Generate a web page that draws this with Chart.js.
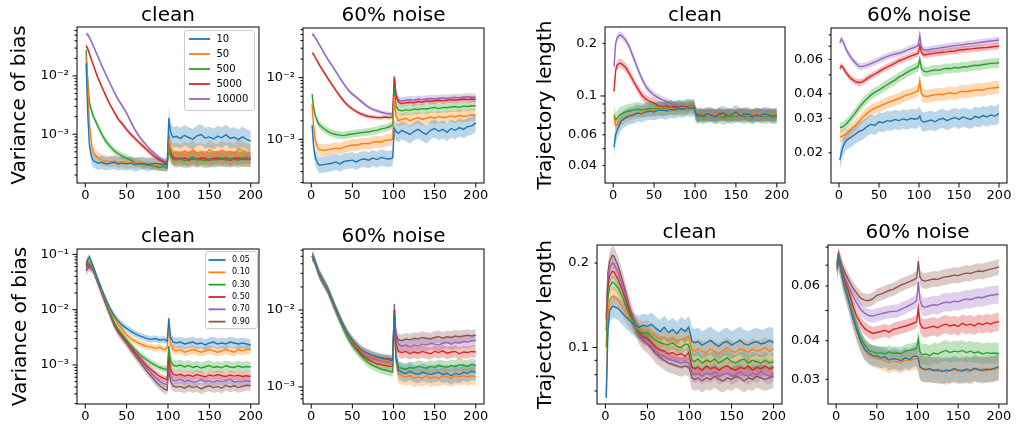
<!DOCTYPE html>
<html>
<head>
<meta charset="utf-8">
<script src="https://cdn.jsdelivr.net/npm/chart.js@4.4.0/dist/chart.umd.min.js"></script>
<style>
  body { margin: 0; background: #fff; width: 1017px; height: 425px; position: relative; overflow: hidden; }
  canvas { position: absolute; }
</style>
</head>
<body>
<canvas id="cA"></canvas><canvas id="cB"></canvas><canvas id="cC"></canvas><canvas id="cD"></canvas>
<canvas id="cE"></canvas><canvas id="cF"></canvas><canvas id="cG"></canvas><canvas id="cH"></canvas>
<script>
// epochs sampled from the curves
const epochs = [1,3,5,8, 10,15,20,25,30,35,40,45,50, 55,60,65,70,75,80,85,90,95,99, 101,103,106,
  110,115,120,125,130,135,140,145,150,155,160,165,170,175,180,185,190,195,200];
const xTicks = [0, 50, 100, 150, 200];

const batchLabels = ['10', '50', '500', '5000', '10000'];
const ratioLabels = ['0.05', '0.10', '0.30', '0.50', '0.70', '0.90'];
const colors = ['#1f77b4', '#ff7f0e', '#2ca02c', '#d62728', '#9467bd', '#8c564b'];

// top-left: variance of bias, clean
const varBiasClean = [
  [1.65e-2,2.2e-3,6.5e-4,3.9e-4, 3.5e-4,3.2e-4,3.3e-4,3.1e-4,3.2e-4,3.3e-4,3.1e-4,3.2e-4,3.1e-4,
   3.2e-4,3.0e-4,3.1e-4,3.2e-4,3.0e-4,3.1e-4,3.2e-4,3.1e-4,3.0e-4,3.0e-4, 1.9e-3,1.1e-3,8.8e-4,
   9.2e-4,8.5e-4,9.6e-4,8.8e-4,8.2e-4,9.4e-4,9.9e-4,8.6e-4,9.0e-4,8.3e-4,9.3e-4,8.7e-4,9.8e-4,8.5e-4,8.9e-4,8.1e-4,9.0e-4,8.2e-4,7.6e-4],
  [2.1e-2,8.0e-3,1.5e-3,6.0e-4, 4.8e-4,4.0e-4,3.6e-4,3.5e-4,3.4e-4,3.5e-4,3.3e-4,3.4e-4,3.2e-4,
   3.3e-4,3.2e-4,3.3e-4,3.1e-4,3.2e-4,3.1e-4,3.0e-4,3.0e-4,2.9e-4,2.9e-4, 9.0e-4,6.0e-4,4.8e-4,
   5.0e-4,4.6e-4,5.2e-4,4.8e-4,5.4e-4,4.7e-4,5.0e-4,4.5e-4,5.5e-4,4.9e-4,4.7e-4,5.3e-4,4.9e-4,5.1e-4,4.6e-4,5.6e-4,5.4e-4,4.8e-4,4.6e-4],
  [2.8e-2,8.0e-3,3.5e-3,2.4e-3, 2.0e-3,1.4e-3,1.0e-3,7.5e-4,6.2e-4,5.2e-4,4.6e-4,4.2e-4,3.9e-4,
   3.6e-4,3.3e-4,3.2e-4,3.0e-4,3.0e-4,2.9e-4,2.8e-4,2.7e-4,2.8e-4,2.6e-4, 8.5e-4,4.5e-4,3.7e-4,
   3.6e-4,3.8e-4,3.5e-4,3.7e-4,3.9e-4,3.6e-4,3.7e-4,3.5e-4,3.8e-4,3.6e-4,3.7e-4,3.9e-4,3.6e-4,3.8e-4,3.7e-4,3.6e-4,3.8e-4,3.7e-4,3.7e-4],
  [3.3e-2,2.9e-2,2.4e-2,1.8e-2, 1.5e-2,9.5e-3,6.5e-3,4.5e-3,3.2e-3,2.4e-3,1.8e-3,1.5e-3,1.2e-3,
   1.0e-3,8.5e-4,7.2e-4,6.2e-4,5.3e-4,4.6e-4,4.0e-4,3.6e-4,3.3e-4,3.0e-4, 9.5e-4,5.0e-4,4.0e-4,
   3.8e-4,3.7e-4,3.9e-4,3.6e-4,3.8e-4,3.7e-4,3.9e-4,3.8e-4,3.6e-4,3.8e-4,3.9e-4,3.7e-4,3.8e-4,3.6e-4,3.8e-4,3.9e-4,3.7e-4,3.8e-4,3.7e-4],
  [5.2e-2,5.1e-2,4.6e-2,3.7e-2, 3.2e-2,2.2e-2,1.5e-2,1.05e-2,7.4e-3,5.3e-3,3.9e-3,3.0e-3,2.3e-3,
   1.65e-3,1.2e-3,9.2e-4,7.5e-4,6.2e-4,5.2e-4,4.5e-4,3.9e-4,3.5e-4,3.2e-4, 5.0e-4,4.2e-4,3.8e-4,
   3.9e-4,4.0e-4,3.8e-4,3.9e-4,4.1e-4,3.8e-4,3.9e-4,4.0e-4,3.8e-4,3.9e-4,4.0e-4,3.9e-4,4.1e-4,3.8e-4,4.0e-4,3.9e-4,4.0e-4,4.1e-4,4.0e-4]
];
const varBiasCleanSpread = [[0.3,0.5],[0.25,0.45],[0.15,0.35],[0.1,0.35],[0.1,0.3]];

// top: variance of bias, 60% noise
const varBiasNoise = [
  [1.7e-3,7.5e-4,5.0e-4,4.1e-4, 3.8e-4,3.9e-4,4.0e-4,4.1e-4,4.3e-4,4.0e-4,4.4e-4,4.5e-4,4.6e-4,
   4.3e-4,4.7e-4,4.8e-4,4.6e-4,5.0e-4,4.7e-4,5.1e-4,4.9e-4,4.8e-4,5.0e-4, 1.5e-3,1.35e-3,1.25e-3,
   1.4e-3,1.3e-3,1.2e-3,1.35e-3,1.45e-3,1.3e-3,1.2e-3,1.4e-3,1.5e-3,1.35e-3,1.45e-3,1.3e-3,1.5e-3,1.4e-3,1.55e-3,1.45e-3,1.6e-3,1.65e-3,1.85e-3],
  [3.7e-3,1.6e-3,9.5e-4,7.2e-4, 6.8e-4,6.6e-4,6.8e-4,6.9e-4,7.2e-4,7.0e-4,7.5e-4,7.8e-4,8.1e-4,
   8.0e-4,8.4e-4,8.6e-4,8.5e-4,9.0e-4,9.2e-4,9.0e-4,9.6e-4,9.8e-4,1.0e-3, 5.0e-3,2.4e-3,2.0e-3,
   2.1e-3,2.2e-3,2.0e-3,2.15e-3,2.25e-3,2.1e-3,2.2e-3,2.3e-3,2.2e-3,2.35e-3,2.25e-3,2.3e-3,2.4e-3,2.3e-3,2.45e-3,2.35e-3,2.4e-3,2.5e-3,2.45e-3],
  [5.4e-3,3.2e-3,2.4e-3,1.9e-3, 1.7e-3,1.5e-3,1.35e-3,1.25e-3,1.2e-3,1.17e-3,1.15e-3,1.2e-3,1.22e-3,
   1.25e-3,1.28e-3,1.3e-3,1.33e-3,1.37e-3,1.4e-3,1.48e-3,1.52e-3,1.6e-3,1.7e-3, 7.0e-3,3.5e-3,3.0e-3,
   2.9e-3,3.0e-3,2.95e-3,3.1e-3,3.05e-3,3.15e-3,3.1e-3,3.2e-3,3.3e-3,3.15e-3,3.3e-3,3.25e-3,3.35e-3,3.4e-3,3.3e-3,3.45e-3,3.4e-3,3.5e-3,3.5e-3],
  [2.5e-2,2.4e-2,2.1e-2,1.8e-2, 1.6e-2,1.25e-2,9.8e-3,7.8e-3,6.2e-3,5.0e-3,4.1e-3,3.5e-3,3.1e-3,
   2.8e-3,2.6e-3,2.45e-3,2.35e-3,2.3e-3,2.25e-3,2.25e-3,2.3e-3,2.25e-3,2.3e-3, 1.0e-2,5.0e-3,4.0e-3,
   3.8e-3,3.9e-3,4.0e-3,3.9e-3,4.1e-3,4.0e-3,4.2e-3,4.1e-3,4.2e-3,4.3e-3,4.2e-3,4.3e-3,4.4e-3,4.3e-3,4.4e-3,4.5e-3,4.4e-3,4.5e-3,4.4e-3],
  [5.0e-2,4.9e-2,4.4e-2,3.8e-2, 3.4e-2,2.6e-2,2.0e-2,1.6e-2,1.25e-2,9.8e-3,7.8e-3,6.3e-3,5.4e-3,
   4.8e-3,4.2e-3,3.7e-3,3.3e-3,3.05e-3,2.9e-3,2.75e-3,2.65e-3,2.6e-3,2.55e-3, 1.05e-2,5.5e-3,4.4e-3,
   4.2e-3,4.3e-3,4.4e-3,4.3e-3,4.5e-3,4.4e-3,4.5e-3,4.6e-3,4.5e-3,4.6e-3,4.7e-3,4.6e-3,4.7e-3,4.8e-3,4.7e-3,4.8e-3,4.9e-3,4.8e-3,4.8e-3]
];
const varBiasNoiseSpread = [[0.35,0.4],[0.25,0.25],[0.15,0.2],[0.08,0.12],[0.08,0.15]];

// top-right: trajectory length, clean
const trajClean = [
  [0.051,0.060,0.064,0.069, 0.072,0.075,0.077,0.078,0.080,0.079,0.081,0.082,0.081,
   0.083,0.083,0.082,0.084,0.083,0.085,0.084,0.086,0.085,0.086, 0.079,0.077,0.078,
   0.077,0.079,0.078,0.076,0.079,0.080,0.077,0.078,0.081,0.077,0.078,0.079,0.076,0.078,0.077,0.079,0.078,0.077,0.078],
  [0.076,0.068,0.068,0.071, 0.073,0.076,0.078,0.079,0.080,0.081,0.082,0.082,0.083,
   0.084,0.084,0.083,0.085,0.084,0.085,0.086,0.085,0.087,0.086, 0.078,0.077,0.078,
   0.078,0.077,0.079,0.078,0.077,0.078,0.079,0.077,0.078,0.079,0.078,0.077,0.078,0.079,0.078,0.077,0.078,0.079,0.078],
  [0.078,0.073,0.075,0.078, 0.079,0.081,0.082,0.083,0.084,0.083,0.084,0.085,0.084,
   0.085,0.084,0.085,0.086,0.085,0.086,0.085,0.086,0.087,0.086, 0.078,0.076,0.077,
   0.076,0.077,0.078,0.076,0.077,0.075,0.077,0.076,0.077,0.078,0.076,0.077,0.076,0.078,0.077,0.076,0.077,0.076,0.076],
  [0.106,0.140,0.151,0.154, 0.153,0.146,0.134,0.121,0.110,0.101,0.096,0.093,0.091,
   0.088,0.087,0.088,0.086,0.087,0.086,0.087,0.086,0.088,0.087, 0.079,0.078,0.077,
   0.078,0.077,0.078,0.077,0.079,0.078,0.077,0.078,0.077,0.078,0.079,0.077,0.078,0.077,0.078,0.077,0.078,0.078,0.077],
  [0.147,0.200,0.216,0.223, 0.222,0.210,0.190,0.165,0.143,0.126,0.113,0.106,0.101,
   0.098,0.095,0.093,0.091,0.089,0.088,0.088,0.087,0.087,0.087, 0.080,0.078,0.078,
   0.078,0.079,0.077,0.078,0.078,0.077,0.079,0.078,0.077,0.078,0.079,0.078,0.077,0.078,0.078,0.079,0.078,0.077,0.078]
];
const trajCleanSpread = [[0.12,0.1],[0.08,0.08],[0.1,0.1],[0.06,0.08],[0.05,0.08]];

// top-right: trajectory length, 60% noise
const trajNoise = [
  [0.0184,0.0200,0.0215,0.0228, 0.0233,0.0240,0.0248,0.0257,0.0262,0.0272,0.0280,0.0276,0.0288,
   0.0285,0.0292,0.0290,0.0296,0.0292,0.0298,0.0294,0.0300,0.0297,0.0300, 0.0308,0.0292,0.0287,
   0.0290,0.0294,0.0288,0.0296,0.0300,0.0292,0.0298,0.0303,0.0296,0.0305,0.0300,0.0296,0.0307,0.0302,0.0310,0.0305,0.0312,0.0308,0.0318],
  [0.0241,0.0242,0.0245,0.0248, 0.0250,0.0262,0.0275,0.0290,0.0305,0.0318,0.0330,0.0338,0.0345,
   0.0352,0.0360,0.0366,0.0372,0.0378,0.0388,0.0395,0.0400,0.0408,0.0415, 0.0465,0.0400,0.0390,
   0.0388,0.0392,0.0395,0.0398,0.0396,0.0402,0.0405,0.0400,0.0408,0.0412,0.0410,0.0415,0.0418,0.0420,0.0418,0.0425,0.0428,0.0430,0.0432],
  [0.0269,0.0270,0.0273,0.0278, 0.0283,0.0300,0.0318,0.0340,0.0360,0.0378,0.0395,0.0408,0.0418,
   0.0432,0.0445,0.0458,0.0470,0.0488,0.0500,0.0515,0.0528,0.0540,0.0552, 0.0600,0.0540,0.0522,
   0.0518,0.0525,0.0530,0.0528,0.0535,0.0540,0.0538,0.0545,0.0542,0.0550,0.0548,0.0555,0.0560,0.0558,0.0565,0.0568,0.0572,0.0574,0.0576],
  [0.0540,0.0556,0.0545,0.0520, 0.0505,0.0478,0.0463,0.0456,0.0462,0.0478,0.0492,0.0505,0.0519,
   0.0535,0.0548,0.0560,0.0574,0.0590,0.0600,0.0612,0.0625,0.0635,0.0644, 0.0705,0.0650,0.0632,
   0.0635,0.0640,0.0645,0.0648,0.0652,0.0655,0.0660,0.0662,0.0669,0.0672,0.0675,0.0678,0.0682,0.0685,0.0688,0.0690,0.0694,0.0698,0.0700],
  [0.0729,0.0762,0.0740,0.0690, 0.0660,0.0612,0.0578,0.0552,0.0552,0.0560,0.0570,0.0582,0.0595,
   0.0608,0.0620,0.0630,0.0638,0.0644,0.0655,0.0668,0.0680,0.0692,0.0704, 0.0798,0.0690,0.0670,
   0.0669,0.0675,0.0680,0.0684,0.0690,0.0695,0.0700,0.0705,0.0709,0.0712,0.0718,0.0722,0.0725,0.0730,0.0735,0.0740,0.0744,0.0748,0.0753]
];
const trajNoiseSpread = [[0.12,0.12],[0.07,0.08],[0.06,0.06],[0.04,0.04],[0.04,0.04]];

// bottom-left: variance of bias, clean (ratios)
const varBiasCleanR = [
  [0.064,0.080,0.090,0.070, 0.058,0.036,0.023,0.0152,0.0105,0.0078,0.0062,0.0052,0.0046,
   0.0041,0.0037,0.0034,0.0032,0.0030,0.0029,0.0030,0.0028,0.0029,0.0027, 0.0070,0.0032,0.0026,
   0.0025,0.0026,0.0024,0.0025,0.0026,0.0024,0.0025,0.0023,0.0025,0.0026,0.0024,0.0025,0.0024,0.0026,0.0025,0.0024,0.0025,0.0024,0.0023],
  [0.070,0.080,0.074,0.064, 0.055,0.035,0.022,0.0145,0.0096,0.0071,0.0054,0.0043,0.0035,
   0.0030,0.0027,0.00245,0.0023,0.00215,0.0021,0.0020,0.0021,0.0019,0.0020, 0.0050,0.0024,0.0019,
   0.0018,0.0019,0.0017,0.0018,0.0019,0.0018,0.0017,0.0018,0.0019,0.0018,0.0017,0.0018,0.0019,0.0018,0.0017,0.0019,0.0018,0.0019,0.0019],
  [0.065,0.070,0.068,0.060, 0.053,0.034,0.021,0.0137,0.0086,0.0058,0.0043,0.00345,0.0028,
   0.0023,0.0019,0.0016,0.00138,0.00122,0.00108,0.00098,0.00090,0.00085,0.00082, 0.0022,0.0012,0.0010,
   0.00095,0.0010,0.00092,0.00098,0.00090,0.00095,0.00088,0.00093,0.00098,0.00090,0.00094,0.00089,0.00097,0.00092,0.00090,0.00096,0.00091,0.00094,0.00092],
  [0.060,0.064,0.064,0.058, 0.052,0.033,0.0205,0.0132,0.0084,0.0056,0.0041,0.0033,0.00265,
   0.0021,0.0017,0.0014,0.00115,0.00095,0.00082,0.00071,0.00062,0.00057,0.00054, 0.0016,0.00085,0.00068,
   0.00065,0.00068,0.00063,0.00066,0.00062,0.00067,0.00064,0.00061,0.00066,0.00063,0.00067,0.00064,0.00062,0.00066,0.00063,0.00065,0.00062,0.00064,0.00062],
  [0.056,0.060,0.060,0.056, 0.051,0.032,0.020,0.0128,0.0082,0.0054,0.0040,0.0032,0.00255,
   0.0020,0.0016,0.0013,0.00105,0.00086,0.00070,0.00059,0.00051,0.00046,0.00044, 0.0012,0.00065,0.00053,
   0.00052,0.00055,0.00050,0.00053,0.00049,0.00051,0.00054,0.00050,0.00052,0.00049,0.00053,0.00050,0.00052,0.00055,0.00049,0.00051,0.00050,0.00052,0.00050],
  [0.050,0.056,0.058,0.055, 0.050,0.031,0.0195,0.0124,0.0080,0.0052,0.0039,0.0031,0.00245,
   0.0019,0.0015,0.0012,0.00095,0.00075,0.00062,0.00050,0.00042,0.00037,0.00035, 0.0009,0.00050,0.00042,
   0.00040,0.00041,0.00038,0.00042,0.00039,0.00041,0.00037,0.00040,0.00042,0.00039,0.00041,0.00038,0.00043,0.00040,0.00042,0.00039,0.00041,0.00043,0.00042]
];
const varBiasCleanRSpread = [[0.15,0.25],[0.15,0.2],[0.15,0.25],[0.15,0.2],[0.15,0.2],[0.2,0.25]];

// bottom: variance of bias, 60% noise (ratios)
const varBiasNoiseR = [
  [0.050,0.047,0.041,0.033, 0.029,0.023,0.0185,0.0137,0.0102,0.0077,0.0059,0.0047,0.0040,
   3.5e-3,3.1e-3,2.85e-3,2.7e-3,2.55e-3,2.45e-3,2.35e-3,2.3e-3,2.25e-3,2.2e-3, 8.0e-3,2.4e-3,1.65e-3,
   1.55e-3,1.5e-3,1.6e-3,1.5e-3,1.45e-3,1.55e-3,1.5e-3,1.45e-3,1.5e-3,1.55e-3,1.45e-3,1.5e-3,1.4e-3,1.5e-3,1.45e-3,1.55e-3,1.5e-3,1.6e-3,1.55e-3],
  [0.050,0.047,0.041,0.033, 0.029,0.023,0.0184,0.0136,0.0101,0.0076,0.0058,0.0046,0.0039,
   3.4e-3,3.0e-3,2.75e-3,2.6e-3,2.45e-3,2.35e-3,2.25e-3,2.2e-3,2.15e-3,2.1e-3, 7.0e-3,2.2e-3,1.45e-3,
   1.4e-3,1.35e-3,1.4e-3,1.3e-3,1.35e-3,1.3e-3,1.4e-3,1.3e-3,1.35e-3,1.3e-3,1.4e-3,1.35e-3,1.3e-3,1.4e-3,1.35e-3,1.4e-3,1.35e-3,1.4e-3,1.35e-3],
  [0.050,0.047,0.041,0.033, 0.029,0.023,0.0183,0.0134,0.0098,0.0073,0.0055,0.0043,0.0035,
   3.0e-3,2.6e-3,2.3e-3,2.05e-3,1.9e-3,1.8e-3,1.7e-3,1.65e-3,1.6e-3,1.55e-3, 9.0e-3,2.6e-3,1.8e-3,
   1.75e-3,1.7e-3,1.8e-3,1.75e-3,1.85e-3,1.8e-3,1.75e-3,1.85e-3,1.8e-3,1.9e-3,1.85e-3,1.8e-3,1.9e-3,1.85e-3,1.95e-3,1.9e-3,1.85e-3,1.95e-3,1.9e-3],
  [0.050,0.047,0.041,0.033, 0.029,0.023,0.0183,0.0135,0.0100,0.0075,0.0057,0.0045,0.0037,
   3.2e-3,2.75e-3,2.45e-3,2.25e-3,2.1e-3,2.0e-3,1.95e-3,1.9e-3,1.85e-3,1.85e-3, 1.0e-2,3.6e-3,2.9e-3,
   2.8e-3,2.9e-3,2.7e-3,2.85e-3,2.75e-3,2.9e-3,2.8e-3,2.7e-3,2.9e-3,2.8e-3,2.95e-3,2.75e-3,2.85e-3,2.9e-3,2.7e-3,2.85e-3,2.8e-3,2.9e-3,2.85e-3],
  [0.050,0.047,0.041,0.033, 0.029,0.023,0.0184,0.0136,0.0101,0.0076,0.0058,0.0046,0.0038,
   3.3e-3,2.9e-3,2.6e-3,2.45e-3,2.35e-3,2.25e-3,2.2e-3,2.15e-3,2.1e-3,2.1e-3, 1.2e-2,4.5e-3,3.6e-3,
   3.4e-3,3.5e-3,3.3e-3,3.5e-3,3.4e-3,3.6e-3,3.5e-3,3.7e-3,3.6e-3,3.5e-3,3.7e-3,3.8e-3,3.6e-3,3.8e-3,3.7e-3,3.9e-3,3.8e-3,4.0e-3,4.0e-3],
  [0.050,0.047,0.041,0.033, 0.029,0.023,0.0185,0.0138,0.0103,0.0078,0.0060,0.0048,0.0040,
   3.4e-3,3.0e-3,2.8e-3,2.65e-3,2.55e-3,2.45e-3,2.4e-3,2.35e-3,2.35e-3,2.3e-3, 1.0e-2,4.8e-3,4.1e-3,
   4.0e-3,4.2e-3,4.1e-3,4.3e-3,4.2e-3,4.4e-3,4.3e-3,4.2e-3,4.4e-3,4.5e-3,4.3e-3,4.5e-3,4.4e-3,4.6e-3,4.5e-3,4.6e-3,4.7e-3,4.6e-3,4.7e-3]
];
const varBiasNoiseRSpread = [[0.15,0.3],[0.15,0.3],[0.15,0.2],[0.15,0.2],[0.12,0.2],[0.12,0.2]];

// bottom-right: trajectory length, clean (ratios)
const trajCleanR = [
  [0.066,0.115,0.135,0.140, 0.140,0.138,0.133,0.128,0.124,0.120,0.118,0.120,0.119,
   0.121,0.117,0.114,0.118,0.113,0.116,0.112,0.117,0.114,0.118, 0.112,0.105,0.104,
   0.105,0.102,0.104,0.106,0.103,0.101,0.104,0.105,0.102,0.104,0.106,0.103,0.102,0.104,0.105,0.103,0.104,0.106,0.104],
  [0.068,0.130,0.148,0.152, 0.152,0.148,0.140,0.132,0.125,0.120,0.116,0.115,0.116,
   0.112,0.110,0.107,0.109,0.106,0.108,0.105,0.107,0.108,0.110, 0.104,0.098,0.097,
   0.099,0.097,0.096,0.099,0.097,0.095,0.098,0.100,0.097,0.096,0.099,0.098,0.096,0.099,0.097,0.098,0.100,0.097,0.099],
  [0.100,0.150,0.165,0.171, 0.170,0.163,0.152,0.139,0.128,0.120,0.114,0.112,0.113,
   0.109,0.106,0.104,0.103,0.102,0.104,0.101,0.100,0.103,0.102, 0.096,0.090,0.089,
   0.091,0.088,0.090,0.089,0.091,0.088,0.090,0.092,0.089,0.088,0.090,0.091,0.088,0.090,0.089,0.088,0.090,0.088,0.089],
  [0.115,0.165,0.180,0.187, 0.186,0.175,0.160,0.145,0.131,0.120,0.113,0.109,0.108,
   0.104,0.100,0.098,0.097,0.095,0.096,0.094,0.095,0.093,0.096, 0.090,0.085,0.084,
   0.085,0.083,0.086,0.084,0.085,0.083,0.085,0.086,0.084,0.083,0.085,0.084,0.086,0.083,0.085,0.084,0.086,0.084,0.085],
  [0.125,0.175,0.193,0.200, 0.199,0.186,0.168,0.150,0.133,0.121,0.112,0.107,0.106,
   0.101,0.097,0.094,0.093,0.091,0.090,0.089,0.088,0.089,0.088, 0.085,0.081,0.080,
   0.081,0.079,0.081,0.080,0.082,0.079,0.080,0.081,0.079,0.080,0.082,0.080,0.079,0.081,0.080,0.082,0.080,0.079,0.081],
  [0.128,0.185,0.203,0.213, 0.212,0.196,0.175,0.154,0.135,0.121,0.111,0.106,0.103,
   0.099,0.095,0.092,0.090,0.088,0.087,0.086,0.085,0.086,0.085, 0.082,0.078,0.077,
   0.078,0.076,0.078,0.077,0.079,0.077,0.076,0.078,0.077,0.079,0.078,0.076,0.078,0.077,0.079,0.078,0.077,0.078,0.079]
];
const trajCleanRSpread = [[0.1,0.12],[0.08,0.09],[0.06,0.07],[0.06,0.07],[0.05,0.07],[0.08,0.1]];

// bottom-right: trajectory length, 60% noise (ratios)
const trajNoiseR = [
  [0.068,0.073,0.069,0.063, 0.060,0.054,0.048,0.0435,0.0400,0.0375,0.0365,0.0358,0.0357,
   0.0352,0.0355,0.0346,0.0350,0.0348,0.0345,0.0352,0.0348,0.0356,0.0357, 0.0352,0.0330,0.0325,
   0.0322,0.0325,0.0320,0.0323,0.0318,0.0322,0.0320,0.0325,0.0322,0.0319,0.0324,0.0321,0.0326,0.0323,0.0320,0.0324,0.0322,0.0326,0.0330],
  [0.067,0.072,0.069,0.063, 0.060,0.054,0.048,0.0432,0.0395,0.0372,0.0360,0.0355,0.0352,
   0.0348,0.0345,0.0340,0.0344,0.0342,0.0340,0.0346,0.0345,0.0349,0.0350, 0.0345,0.0328,0.0323,
   0.0325,0.0321,0.0323,0.0318,0.0322,0.0316,0.0320,0.0322,0.0318,0.0323,0.0320,0.0318,0.0324,0.0321,0.0325,0.0320,0.0326,0.0323,0.0328],
  [0.069,0.074,0.070,0.064, 0.061,0.055,0.049,0.0445,0.0410,0.0388,0.0372,0.0368,0.0364,
   0.0366,0.0362,0.0368,0.0364,0.0365,0.0363,0.0370,0.0372,0.0375,0.0378, 0.0405,0.0368,0.0360,
   0.0362,0.0358,0.0365,0.0362,0.0368,0.0372,0.0366,0.0370,0.0368,0.0372,0.0366,0.0370,0.0365,0.0368,0.0362,0.0366,0.0364,0.0365,0.0363],
  [0.070,0.075,0.071,0.066, 0.063,0.058,0.0525,0.048,0.0455,0.0438,0.0428,0.0422,0.0425,
   0.0428,0.0432,0.0426,0.0435,0.0438,0.0442,0.0445,0.0450,0.0455,0.0460, 0.0510,0.0455,0.0440,
   0.0438,0.0442,0.0445,0.0440,0.0448,0.0452,0.0446,0.0450,0.0444,0.0455,0.0448,0.0452,0.0446,0.0455,0.0450,0.0457,0.0452,0.0458,0.0460],
  [0.071,0.076,0.072,0.067, 0.065,0.060,0.056,0.053,0.0505,0.049,0.0482,0.0480,0.0485,
   0.0488,0.0492,0.0495,0.0497,0.0498,0.0505,0.0512,0.0520,0.0528,0.0538, 0.0620,0.0540,0.0515,
   0.0513,0.0518,0.0522,0.0520,0.0528,0.0532,0.0530,0.0536,0.0534,0.0540,0.0545,0.0542,0.0548,0.0552,0.0550,0.0556,0.0560,0.0562,0.0564],
  [0.072,0.076,0.073,0.069, 0.067,0.063,0.0595,0.057,0.0548,0.0540,0.0538,0.0545,0.0560,
   0.0565,0.0572,0.0580,0.0585,0.0595,0.0605,0.0612,0.0620,0.0628,0.0637, 0.0720,0.0640,0.0625,
   0.0622,0.0628,0.0632,0.0630,0.0638,0.0642,0.0645,0.0650,0.0648,0.0655,0.0660,0.0658,0.0665,0.0670,0.0668,0.0675,0.0680,0.0685,0.0691]
];
const trajNoiseRSpread = [[0.08,0.1],[0.08,0.1],[0.05,0.08],[0.05,0.07],[0.05,0.07],[0.05,0.06]];

// labelled y ticks
const ticksVar2 = [[1e-2, '10⁻²'], [1e-3, '10⁻³']];
const ticksVar3 = [[1e-1, '10⁻¹'], [1e-2, '10⁻²'], [1e-3, '10⁻³']];
const ticksTrajC = [[0.04, '0.04'], [0.06, '0.06'], [0.1, '0.1'], [0.2, '0.2']];
const ticksTrajN = [[0.02, '0.02'], [0.03, '0.03'], [0.04, '0.04'], [0.06, '0.06']];
const ticksTrajCR = [[0.1, '0.1'], [0.2, '0.2']];
const ticksTrajNR = [[0.03, '0.03'], [0.04, '0.04'], [0.06, '0.06']];

const FONT = '"DejaVu Sans", sans-serif';

// layout: canvas box [x,y,w,h] and plot box [l,t,r,b] in page pixels
const panels = [
  {id:'cA', series:varBiasClean, spread:varBiasCleanSpread, yMin:1.46e-4, yMax:0.069, yTicks:ticksVar2,
   title:'clean', titleY:21, ylabel:'Variance of bias', ylabelX:25, canvas:[0,0,280,215], plot:[77,27,259,183],
   legend:{labels:batchLabels, box:[184,30,254,110], rowY:39, dy:15, line:[189,210], textX:216.5, size:10}},
  {id:'cB', series:varBiasNoise, spread:varBiasNoiseSpread, yMin:1.96e-4, yMax:0.0638, yTicks:ticksVar2,
   title:'60% noise', titleY:21, canvas:[240,0,280,215], plot:[303,28,484,183]},
  {id:'cC', series:trajClean, spread:trajCleanSpread, yMin:0.0318, yMax:0.248, yTicks:ticksTrajC,
   title:'clean', titleY:21, ylabel:'Trajectory length', ylabelX:551, canvas:[510,0,290,215], plot:[605,27,785,183]},
  {id:'cD', series:trajNoise, spread:trajNoiseSpread, yMin:0.01403, yMax:0.0867, yTicks:ticksTrajN,
   title:'60% noise', titleY:21, canvas:[765,0,252,215], plot:[831,28,1007,183]},
  {id:'cE', series:varBiasCleanR, spread:varBiasCleanRSpread, yMin:1.97e-4, yMax:0.125, yTicks:ticksVar3,
   title:'clean', titleY:242, ylabel:'Variance of bias', ylabelX:26, canvas:[0,205,280,230], plot:[77,249,259,404],
   legend:{labels:ratioLabels, box:[205,251,257,328], rowY:260, dy:12.33, line:[208.5,225.5], textX:232, size:8}},
  {id:'cF', series:varBiasNoiseR, spread:varBiasNoiseRSpread, yMin:6.28e-4, yMax:0.0622, yTicks:ticksVar2,
   title:'60% noise', titleY:242, canvas:[240,205,280,230], plot:[303,249,484,404]},
  {id:'cG', series:trajCleanR, spread:trajCleanRSpread, yMin:0.0629, yMax:0.232, yTicks:ticksTrajCR,
   title:'clean', titleY:238, ylabel:'Trajectory length', ylabelX:551, canvas:[510,205,290,230], plot:[597,245,782,404]},
  {id:'cH', series:trajNoiseR, spread:trajNoiseRSpread, yMin:0.0255, yMax:0.0813, yTicks:ticksTrajNR,
   title:'60% noise', titleY:238, canvas:[765,205,252,230], plot:[828,245,1007,404]}
];

function rgba(hex, a) {
  const n = parseInt(hex.slice(1), 16);
  return 'rgba(' + (n >> 16) + ',' + ((n >> 8) & 255) + ',' + (n & 255) + ',' + a + ')';
}

function isDecade(v) {
  const l = Math.log10(v);
  return Math.abs(l - Math.round(l)) < 1e-9;
}

// labelled ticks plus unlabelled log minor ticks
function logTicks(min, max, labeled) {
  const out = labeled.map(([v, s]) => ({value: v, label: s, major: isDecade(v)}));
  for (let d = Math.floor(Math.log10(min)); d <= Math.ceil(Math.log10(max)); d++) {
    for (let k = 1; k < 10; k++) {
      const v = k * Math.pow(10, d);
      if (v < min || v > max) continue;
      if (out.some(t => Math.abs(t.value - v) / v < 1e-6)) continue;
      out.push({value: v, label: '', major: k === 1});
    }
  }
  return out.sort((a, b) => a.value - b.value);
}

function buildDatasets(series, spread) {
  const sets = [];
  series.forEach((vals, k) => {
    const s = e => (e < 100 ? spread[k][0] : spread[k][1]);
    sets.push({data: epochs.map((e, i) => ({x: e, y: vals[i] * (1 + s(e))})),
      borderColor: 'rgba(0,0,0,0)', borderWidth: 0, pointRadius: 0, fill: false, order: 2});
    sets.push({data: epochs.map((e, i) => ({x: e, y: vals[i] / (1 + s(e))})),
      borderColor: 'rgba(0,0,0,0)', borderWidth: 0, pointRadius: 0, fill: '-1',
      backgroundColor: rgba(colors[k], 0.3), order: 2});
  });
  series.forEach((vals, k) => {
    sets.push({data: epochs.map((e, i) => ({x: e, y: vals[i]})),
      borderColor: colors[k], borderWidth: 1.4, pointRadius: 0, fill: false, order: 1});
  });
  return sets;
}

function makeDecor(p, tickList) {
  const ox = p.canvas[0], oy = p.canvas[1];
  return {
    id: 'decor',
    afterDraw(chart) {
      const ctx = chart.ctx, a = chart.chartArea;
      const xs = chart.scales.x, ys = chart.scales.y;
      ctx.save();
      ctx.strokeStyle = '#000';
      ctx.lineWidth = 1;
      ctx.strokeRect(a.left, a.top, a.right - a.left, a.bottom - a.top);
      ctx.beginPath();
      xTicks.forEach(v => {
        const px = xs.getPixelForValue(v);
        ctx.moveTo(px, a.bottom); ctx.lineTo(px, a.bottom + 4.5);
      });
      tickList.forEach(t => {
        const py = ys.getPixelForValue(t.value);
        ctx.moveTo(a.left, py); ctx.lineTo(a.left - (t.major ? 4.5 : 2.5), py);
      });
      ctx.stroke();

      ctx.fillStyle = '#000';
      ctx.font = '20px ' + FONT;
      ctx.textAlign = 'center';
      ctx.textBaseline = 'alphabetic';
      ctx.fillText(p.title, (a.left + a.right) / 2, p.titleY - oy);
      if (p.ylabel) {
        ctx.save();
        ctx.translate(p.ylabelX - ox, (a.top + a.bottom) / 2);
        ctx.rotate(-Math.PI / 2);
        ctx.fillText(p.ylabel, 0, 0);
        ctx.restore();
      }

      const lg = p.legend;
      if (lg) {
        const [bl, bt, br, bb] = lg.box;
        ctx.beginPath();
        ctx.roundRect(bl - ox + 0.5, bt - oy + 0.5, br - bl, bb - bt, 2.5);
        ctx.fillStyle = 'rgba(255,255,255,0.8)';
        ctx.fill();
        ctx.strokeStyle = '#cccccc';
        ctx.lineWidth = 1;
        ctx.stroke();
        ctx.font = lg.size + 'px ' + FONT;
        ctx.textAlign = 'left';
        ctx.textBaseline = 'middle';
        lg.labels.forEach((lab, k) => {
          const y = lg.rowY + k * lg.dy - oy;
          ctx.strokeStyle = colors[k];
          ctx.lineWidth = 1.8;
          ctx.beginPath();
          ctx.moveTo(lg.line[0] - ox, y); ctx.lineTo(lg.line[1] - ox, y);
          ctx.stroke();
          ctx.fillStyle = '#000';
          ctx.fillText(lab, lg.textX - ox, y);
        });
      }
      ctx.restore();
    }
  };
}

Chart.defaults.font.family = FONT;
Chart.defaults.font.size = 13;
Chart.defaults.color = '#000';

const yw = 60, xh = 30;

panels.forEach(p => {
  const cv = document.getElementById(p.id);
  const [cx, cy, cw, ch] = p.canvas;
  const [l, t, r, b] = p.plot;
  cv.width = cw; cv.height = ch;
  cv.style.left = cx + 'px'; cv.style.top = cy + 'px';
  const tickList = logTicks(p.yMin, p.yMax, p.yTicks);
  new Chart(cv, {
    type: 'line',
    data: {datasets: buildDatasets(p.series, p.spread)},
    options: {
      responsive: false,
      animation: false,
      devicePixelRatio: 1,
      layout: {padding: {left: l - cx - yw, top: t - cy, right: cx + cw - r, bottom: cy + ch - b - xh}},
      plugins: {legend: {display: false}, tooltip: {enabled: false}},
      scales: {
        x: {
          type: 'linear', min: -10, max: 210,
          grid: {display: false, drawTicks: false, tickLength: 0}, border: {display: false},
          afterBuildTicks: s => { s.ticks = xTicks.map(v => ({value: v})); },
          afterFit: s => { s.height = xh; },
          ticks: {padding: 5, autoSkip: false, maxRotation: 0, font: {size: 13}, callback: v => String(v)}
        },
        y: {
          type: 'logarithmic', min: p.yMin, max: p.yMax,
          grid: {display: false, drawTicks: false, tickLength: 0}, border: {display: false},
          afterBuildTicks: s => { s.ticks = tickList.map(tk => ({value: tk.value})); },
          afterFit: s => { s.width = yw; },
          ticks: {padding: 8, autoSkip: false, font: {size: 13}, callback: (v, i) => (tickList[i] ? tickList[i].label : '')}
        }
      }
    },
    plugins: [makeDecor(p, tickList)]
  });
});
</script>
</body>
</html>
